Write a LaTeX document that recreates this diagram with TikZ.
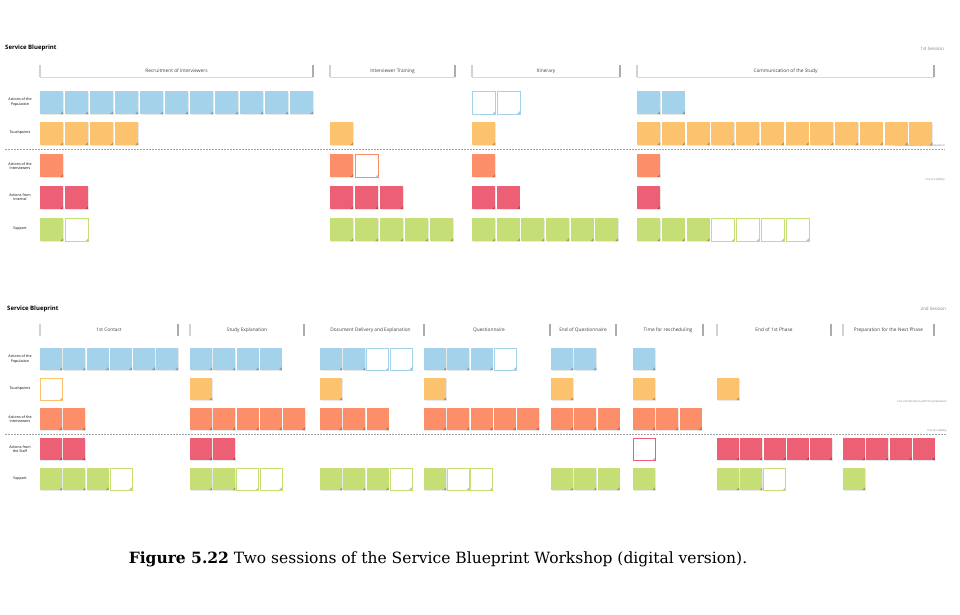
\documentclass[tikz,border=0pt]{standalone}
\usepackage{fontspec}
\setsansfont{Open Sans}
\newfontfamily\capfont{DejaVu Serif}
\usetikzlibrary{shadows}

\definecolor{noteBlue}{HTML}{A3D2EA}
\definecolor{noteOrange}{HTML}{FCC26E}
\definecolor{noteSalmon}{HTML}{FC8E6A}
\definecolor{noteRed}{HTML}{EC5F74}
\definecolor{noteGreen}{HTML}{C5DE76}

\tikzset{
  note/.style={inner sep=0pt, anchor=north west,
    drop shadow={shadow xshift=.5pt, shadow yshift=-.6pt, opacity=.18},
    path picture={\fill[black, opacity=.25] (path picture bounding box.south east)
      -- ++(-3pt,0) -- ++(3pt,3pt) -- cycle;}},
  nB/.style={note, fill=noteBlue},
  nO/.style={note, fill=noteOrange},
  nS/.style={note, fill=noteSalmon},
  nR/.style={note, fill=noteRed},
  nG/.style={note, fill=noteGreen},
  wB/.style={note, fill=white, draw=noteBlue, line width=.5pt},
  wO/.style={note, fill=white, draw=noteOrange, line width=.5pt},
  wS/.style={note, fill=white, draw=noteSalmon, line width=.5pt},
  wR/.style={note, fill=white, draw=noteRed, line width=.5pt},
  wG/.style={note, fill=white, draw=noteGreen, line width=.5pt},
  title/.style={font=\sffamily\bfseries\fontsize{6}{7}\selectfont, anchor=west, inner sep=0pt},
  session/.style={font=\sffamily\fontsize{4.5}{5}\selectfont, text=gray, anchor=east, inner sep=0pt},
  phase/.style={font=\sffamily\fontsize{4.8}{5}\selectfont, text=black!75, inner sep=0pt},
  rowlabel/.style={font=\sffamily\fontsize{3.6}{4.3}\selectfont, align=center, inner sep=0pt},
  linenote/.style={font=\sffamily\fontsize{2.8}{3}\selectfont, text=gray, anchor=east, inner sep=0pt},
  baseline/.style={gray!30, line width=.8pt},
  tickl/.style={gray!35, line width=1.2pt},
  tickr/.style={gray!65, line width=1.2pt},
  sepline/.style={gray!70, line width=.7pt, dash pattern=on 1.5pt off 1.5pt}
}

% one row of sticky notes: name, x, y, pitch, size, list of styles
\newcommand{\noterow}[6]{%
  \foreach \k [count=\i from 0] in {#6}
    \node[\k, minimum size=#5] (#1-\i) at ({#2+\i*#4},#3) {};
}

\begin{document}
\begin{tikzpicture}[x=1pt, y=-1pt]
  \useasboundingbox (0,0) rectangle (960,614);
  \fill[white] (0,0) rectangle (960,614);

  % ---- 1st session ----
  \node[title] (bp1) at (5,48) {Service Blueprint};
  \node[session] (ses1) at (944,49) {1st Session};
  \foreach \xa/\xb/\t [count=\p] in {40/313/Recruitment of Interviewers,
      330/455/Interviewer Training, 472/620/Itinerary, 637/934/Communication of the Study} {
    \node[phase] (ph1-\p) at ({(\xa+\xb)/2},71) {\t};
    \draw[baseline] (\xa,77) -- (\xb,77);
    \draw[tickl] (\xa,65) -- (\xa,77);
    \draw[tickr] (\xb,65) -- (\xb,77);
  }
  \foreach \y/\t [count=\r] in {102/Actions of the\\Population, 133/Touchpoints,
      166/Actions of the\\Interviewers, 197/Actions from\\Internal, 229/Support}
    \node[rowlabel] (lab1-\r) at (20,\y) {\t};
  \draw[sepline] (5,149.5) -- (945,149.5);
  \node[linenote] (ln1a) at (945,146) {line of interaction with the population};
  \node[linenote] (ln1b) at (945,180) {line of visibility};

  \noterow{a1}{40}{91}{25}{23pt}{nB,nB,nB,nB,nB,nB,nB,nB,nB,nB,nB}
  \noterow{a2}{40}{122}{25}{23pt}{nO,nO,nO,nO}
  \noterow{a3}{40}{154}{25}{23pt}{nS}
  \noterow{a4}{40}{186}{25}{23pt}{nR,nR}
  \noterow{a5}{40}{218}{25}{23pt}{nG,wG}

  \noterow{b2}{330}{122}{25}{23pt}{nO}
  \noterow{b3}{330}{154}{25}{23pt}{nS,wS}
  \noterow{b4}{330}{186}{25}{23pt}{nR,nR,nR}
  \noterow{b5}{330}{218}{25}{23pt}{nG,nG,nG,nG,nG}

  \noterow{c1}{472}{91}{24.6}{23pt}{wB,wB}
  \noterow{c2}{472}{122}{24.6}{23pt}{nO}
  \noterow{c3}{472}{154}{24.6}{23pt}{nS}
  \noterow{c4}{472}{186}{24.6}{23pt}{nR,nR}
  \noterow{c5}{472}{218}{24.6}{23pt}{nG,nG,nG,nG,nG,nG}

  \noterow{d1}{637}{91}{24.75}{23pt}{nB,nB}
  \noterow{d2}{637}{122}{24.75}{23pt}{nO,nO,nO,nO,nO,nO,nO,nO,nO,nO,nO,nO}
  \noterow{d3}{637}{154}{24.75}{23pt}{nS}
  \noterow{d4}{637}{186}{24.75}{23pt}{nR}
  \noterow{d5}{637}{218}{24.75}{23pt}{nG,nG,nG,wG,wG,wG,wG}

  % ---- 2nd session ----
  \node[title] (bp2) at (7,309) {Service Blueprint};
  \node[session] (ses2) at (946,309) {2nd Session};
  \foreach \xa/\xb/\t [count=\p] in {40/178/1st Contact, 190/304/Study Explanation,
      317/424/Document Delivery and Explanation, 428/550/Questionnaire,
      550/616/End of Questionnaire, 633/703/Time for rescheduling,
      717/831/End of 1st Phase, 843/934/Preparation for the Next Phase} {
    \node[phase] (ph2-\p) at ({(\xa+\xb)/2},330) {\t};
    \draw[tickr] (\xb,324) -- (\xb,336);
  }
  \foreach \x in {40,190,717,843}
    \draw[tickl] (\x,324) -- (\x,336);
  \foreach \y/\t [count=\r] in {359/Actions of the\\Population, 389/Touchpoints,
      419/Actions of the\\Interviewers, 449/Actions from\\the Staff, 479/Support}
    \node[rowlabel] (lab2-\r) at (20,\y) {\t};
  \draw[sepline] (5,434) -- (947,434);
  \node[linenote] (ln2a) at (947,402) {line of interaction with the population};
  \node[linenote] (ln2b) at (947,431) {line of visibility};

  \noterow{e1}{40}{348}{23.2}{22pt}{nB,nB,nB,nB,nB,nB}
  \noterow{e2}{40}{378}{23.2}{22pt}{wO}
  \noterow{e3}{40}{408}{23.2}{22pt}{nS,nS}
  \noterow{e4}{40}{438}{23.2}{22pt}{nR,nR}
  \noterow{e5}{40}{468}{23.2}{22pt}{nG,nG,nG,wG}

  \noterow{f1}{190}{348}{23.2}{22pt}{nB,nB,nB,nB}
  \noterow{f2}{190}{378}{23.2}{22pt}{nO}
  \noterow{f3}{190}{408}{23.2}{22pt}{nS,nS,nS,nS,nS}
  \noterow{f4}{190}{438}{23.2}{22pt}{nR,nR}
  \noterow{f5}{190}{468}{23.2}{22pt}{nG,nG,wG,wG}

  \noterow{g1}{320}{348}{23.2}{22pt}{nB,nB,wB,wB}
  \noterow{g2}{320}{378}{23.2}{22pt}{nO}
  \noterow{g3}{320}{408}{23.2}{22pt}{nS,nS,nS}
  \noterow{g5}{320}{468}{23.2}{22pt}{nG,nG,nG,wG}

  \noterow{h1}{424}{348}{23.2}{22pt}{nB,nB,nB,wB}
  \noterow{h2}{424}{378}{23.2}{22pt}{nO}
  \noterow{h3}{424}{408}{23.2}{22pt}{nS,nS,nS,nS,nS}
  \noterow{h5}{424}{468}{23.2}{22pt}{nG,wG,wG}

  \noterow{i1}{551}{348}{23.2}{22pt}{nB,nB}
  \noterow{i2}{551}{378}{23.2}{22pt}{nO}
  \noterow{i3}{551}{408}{23.2}{22pt}{nS,nS,nS}
  \noterow{i5}{551}{468}{23.2}{22pt}{nG,nG,nG}

  \noterow{j1}{633}{348}{23.2}{22pt}{nB}
  \noterow{j2}{633}{378}{23.2}{22pt}{nO}
  \noterow{j3}{633}{408}{23.2}{22pt}{nS,nS,nS}
  \noterow{j4}{633}{438}{23.2}{22pt}{wR}
  \noterow{j5}{633}{468}{23.2}{22pt}{nG}

  \noterow{k2}{717}{378}{23.2}{22pt}{nO}
  \noterow{k4}{717}{438}{23.2}{22pt}{nR,nR,nR,nR,nR}
  \noterow{k5}{717}{468}{23.2}{22pt}{nG,nG,wG}

  \noterow{l4}{843}{438}{23.2}{22pt}{nR,nR,nR,nR}
  \noterow{l5}{843}{468}{23.2}{22pt}{nG}

  % caption
  \node[font=\capfont\fontsize{15.5}{18}\selectfont, anchor=base, inner sep=0pt] (cap)
    at (438,563) {\textbf{Figure 5.22} Two sessions of the Service Blueprint Workshop (digital version).};
\end{tikzpicture}
\end{document}
